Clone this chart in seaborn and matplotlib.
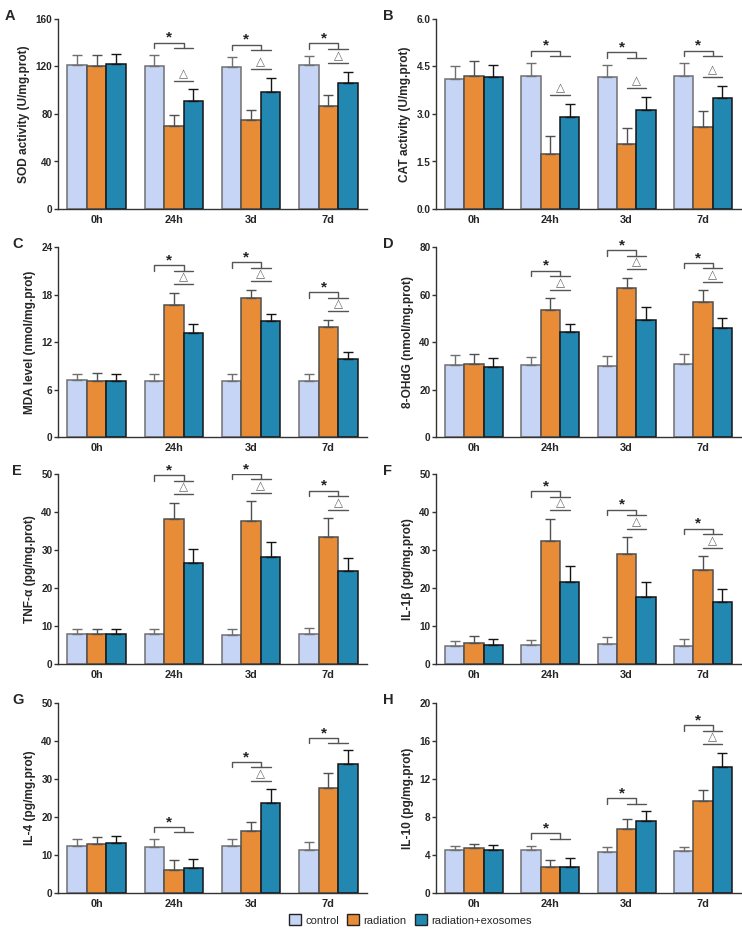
import matplotlib
matplotlib.use("Agg")
import matplotlib.pyplot as plt
from matplotlib.patches import Patch
import seaborn as sns
import pandas as pd

# time points and groups
times = ['0h', '24h', '3d', '7d']
groups = ['control', 'radiation', 'radiation+exosomes']
colors = ['#c6d4f6', '#e98c37', '#2388b1']
edges = ['#707070', '#505050', '#151515']

# panel data: mean and sd per group (rows: control, radiation, rad+exo)
sod_mean = [[121, 120.4, 119.3, 121], [120.4, 69.6, 75.2, 86.7], [122.1, 90.7, 98.5, 106.4]]
sod_sd = [[8.7, 9.3, 8.7, 8.1], [9.3, 9.6, 8.4, 9.3], [8.4, 10.3, 11.8, 9.0]]

cat_mean = [[4.12, 4.2, 4.16, 4.2], [4.2, 1.74, 2.05, 2.58], [4.16, 2.89, 3.12, 3.5]]
cat_sd = [[0.38, 0.41, 0.40, 0.41], [0.48, 0.58, 0.50, 0.50], [0.39, 0.43, 0.43, 0.39]]

mda_mean = [[7.2, 7.12, 7.03, 7.03], [7.03, 16.63, 17.6, 13.85], [7.12, 13.18, 14.6, 9.85]]
mda_sd = [[0.76, 0.84, 0.93, 0.93], [1.05, 1.56, 1.0, 0.95], [0.84, 1.12, 0.9, 0.85]]

ohdg_mean = [[30.2, 30.2, 29.9, 30.6], [30.7, 53.6, 62.7, 57.0], [29.6, 44.2, 49.3, 45.9]]
ohdg_sd = [[4.3, 3.5, 4.2, 4.2], [4.2, 4.9, 4.3, 4.75], [3.7, 3.5, 5.3, 4.3]]

tnf_mean = [[7.9, 7.9, 7.7, 7.9], [7.9, 38.1, 37.6, 33.5], [7.9, 26.7, 28.2, 24.5]]
tnf_sd = [[1.4, 1.4, 1.6, 1.6], [1.4, 4.3, 5.2, 4.9], [1.4, 3.5, 3.8, 3.3]]

il1b_mean = [[4.7, 4.9, 5.35, 4.65], [5.6, 32.3, 28.9, 24.7], [5.1, 21.7, 17.7, 16.2]]
il1b_sd = [[1.4, 1.4, 1.65, 1.85], [1.7, 5.9, 4.5, 3.7], [1.4, 4.2, 3.9, 3.5]]

il4_mean = [[12.5, 12.1, 12.3, 11.4], [12.8, 6.15, 16.3, 27.7], [13.1, 6.6, 23.6, 34.0]]
il4_sd = [[1.7, 2.0, 1.8, 2.0], [2.0, 2.45, 2.4, 3.9], [1.9, 2.4, 3.7, 3.6]]

il10_mean = [[4.56, 4.53, 4.3, 4.46], [4.7, 2.77, 6.74, 9.65], [4.53, 2.7, 7.54, 13.3]]
il10_sd = [[0.44, 0.45, 0.5, 0.42], [0.46, 0.73, 1.05, 1.23], [0.52, 0.95, 1.13, 1.44]]

# significance: star (control vs treated) and delta (radiation vs rad+exo) per time point
star_all = [False, True, True, True]
delta_all = [False, True, True, True]
il4_delta = [False, False, True, False]
il10_delta = [False, False, False, True]

panels = [
    ('A', 'SOD activity (U/mg.prot)', sod_mean, sod_sd, [0, 40, 80, 120, 160], '%d', delta_all),
    ('B', 'CAT activity (U/mg.prot)', cat_mean, cat_sd, [0, 1.5, 3.0, 4.5, 6.0], '%.1f', delta_all),
    ('C', 'MDA level (nmol/mg.prot)', mda_mean, mda_sd, [0, 6, 12, 18, 24], '%d', delta_all),
    ('D', '8-OHdG (nmol/mg.prot)', ohdg_mean, ohdg_sd, [0, 20, 40, 60, 80], '%d', delta_all),
    ('E', 'TNF-α (pg/mg.prot)', tnf_mean, tnf_sd, [0, 10, 20, 30, 40, 50], '%d', delta_all),
    ('F', 'IL-1β (pg/mg.prot)', il1b_mean, il1b_sd, [0, 10, 20, 30, 40, 50], '%d', delta_all),
    ('G', 'IL-4 (pg/mg.prot)', il4_mean, il4_sd, [0, 10, 20, 30, 40, 50], '%d', il4_delta),
    ('H', 'IL-10 (pg/mg.prot)', il10_mean, il10_sd, [0, 4, 8, 12, 16, 20], '%d', il10_delta),
]

sns.set_style('ticks')
plt.rcParams['font.family'] = ['Liberation Sans', 'DejaVu Sans']

W, H = 742, 930
fig = plt.figure(figsize=(W / 100, H / 100), dpi=100)

row_tops = [19, 247, 474, 703]
col_lefts = [(58, 309), (436, 305)]
ax_h = 190
line_c = '#555555'


def draw_sig(ax, xs, tops, R, has_delta):
    xc, xr, xe = xs
    xm = (xr + xe) / 2
    if has_delta:
        D = max(tops[1], tops[2]) + 0.045 * R
        ax.plot([xr, xe], [D, D], color=line_c, lw=1)
        ax.text((xr + xe) / 2, D + 0.004 * R, '△', ha='center', va='bottom',
                fontsize=8.5, color='#666666', family=['DejaVu Sans'])
        S = max(tops[0] + 0.065 * R, D + 0.1 * R)
    else:
        S = max(tops) + 0.065 * R
    d = 0.028 * R
    ax.plot([xc, xc, xm, xm], [S - d, S, S, S - d], color=line_c, lw=1)
    ax.plot([xr, xe], [S - d, S - d], color=line_c, lw=1)
    ax.text((xc + xm) / 2, S - 0.012 * R, '*', ha='center', va='bottom',
            fontsize=11, fontweight='bold', color='#222222')


for k, (lab, ylab, means, sds, yticks, fmt, deltas) in enumerate(panels):
    r, c = divmod(k, 2)
    left, width = col_lefts[c]
    ax = fig.add_axes([left / W, 1 - (row_tops[r] + ax_h) / H, width / W, ax_h / H])

    rows = []
    for g, m_row, s_row in zip(groups, means, sds):
        for t, m, s in zip(times, m_row, s_row):
            rows.append({'time': t, 'group': g, 'mean': m, 'sd': s})
    df = pd.DataFrame(rows)

    sns.barplot(data=df, x='time', y='mean', hue='group', hue_order=groups,
                order=times, palette=colors, width=0.76, errorbar=None,
                saturation=1, legend=False, ax=ax)

    centers = []
    tops_all = []
    for cont, ec, g in zip(ax.containers, edges, groups):
        sub = df[df['group'] == g]
        xs = []
        for bar in cont:
            bar.set_edgecolor(ec)
            bar.set_linewidth(1.1)
            xs.append(bar.get_x() + bar.get_width() / 2)
        ax.errorbar(xs, sub['mean'], yerr=[[0] * len(xs), sub['sd']], fmt='none',
                    ecolor=ec, elinewidth=1, capsize=3.6, capthick=1, zorder=1)
        centers.append(xs)
        tops_all.append(list(sub['mean'] + sub['sd']))

    R = yticks[-1]
    for i, t in enumerate(times):
        if star_all[i]:
            draw_sig(ax, [centers[j][i] for j in range(3)],
                     [tops_all[j][i] for j in range(3)], R, deltas[i])

    ax.set_ylim(0, R)
    ax.set_xlim(-0.5, 3.5)
    ax.set_yticks(yticks)
    ax.set_yticklabels([fmt % v for v in yticks])
    ax.set_xlabel('')
    ax.set_ylabel(ylab, fontsize=8.6, fontweight='bold', labelpad=4)
    ax.tick_params(axis='y', length=3, width=1, labelsize=7.2, pad=1, color='#333333')
    ax.tick_params(axis='x', length=0, labelsize=7.8, pad=4)
    for tl in ax.get_xticklabels() + ax.get_yticklabels():
        tl.set_fontweight('bold')
    sns.despine(ax=ax)
    for sp in ['left', 'bottom']:
        ax.spines[sp].set_color('#333333')
        ax.spines[sp].set_linewidth(1)

    if c == 1:
        lx = 383
    elif lab == 'A':
        lx = 5
    else:
        lx = 12
    fig.text(lx / W, 1 - (row_tops[r] - 10) / H, lab, fontsize=10.5, fontweight='bold',
             va='top', ha='left')

handles = [Patch(facecolor=fc, edgecolor='#222222', linewidth=1) for fc in colors]
fig.legend(handles, groups, loc='lower center', bbox_to_anchor=(0.553, -0.006), ncol=3,
           frameon=False, fontsize=8, handlelength=1.1, handleheight=1.1,
           handletextpad=0.4, columnspacing=0.7)

fig.savefig('out.png', dpi=100)
